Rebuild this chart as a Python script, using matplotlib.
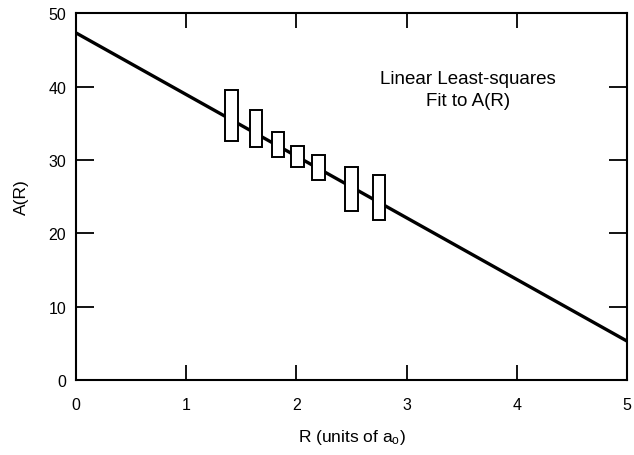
import matplotlib.pyplot as plt

plt.rcParams.update(
    {
        "font.family": ["Liberation Sans", "DejaVu Sans"],
        "font.size": 11.5,
        "mathtext.fontset": "custom",
        "mathtext.rm": "Liberation Sans",
        "mathtext.it": "Liberation Sans",
    }
)

# measured A(R) ranges at each separation
r_values = [1.41, 1.63, 1.83, 2.01, 2.20, 2.50, 2.75]
a_low = [32.6, 31.7, 30.4, 29.0, 27.2, 23.0, 21.8]
a_high = [39.5, 36.8, 33.8, 31.9, 30.7, 29.0, 27.9]

# least-squares line endpoints
fit_r = [0.0, 5.0]
fit_a = [47.3, 5.3]

x_ticks = [0, 1, 2, 3, 4, 5]
y_ticks = [0, 10, 20, 30, 40, 50]

fig = plt.figure(figsize=(6.34, 4.56), dpi=100)
ax = fig.add_axes([0.12, 0.1645, 0.869, 0.8045])

ax.plot(fit_r, fit_a, color="black", linewidth=2.4, zorder=2)

heights = [hi - lo for lo, hi in zip(a_low, a_high)]
ax.bar(r_values, heights, bottom=a_low, width=0.11,
       facecolor="white", edgecolor="black", linewidth=1.4, zorder=3)

ax.text(3.56, 39.6, "Linear Least-squares\nFit to A(R)", ha="center", va="center",
        fontsize=13.5, linespacing=1.35)

ax.set_xlim(0, 5)
ax.set_ylim(0, 50)
ax.set_xticks(x_ticks)
ax.set_yticks(y_ticks)
ax.tick_params(axis="x", direction="in", length=11, width=1.3, top=True, pad=12)
ax.tick_params(axis="y", direction="in", length=13, width=1.3, right=True, pad=7)
for spine in ax.spines.values():
    spine.set_linewidth(1.5)

ax.set_xlabel(r"R (units of a$_\mathrm{o}$)", fontsize=12.5, labelpad=11)
ax.set_ylabel("A(R)", fontsize=12.5, labelpad=14)

fig.savefig("out.png", dpi=100)
